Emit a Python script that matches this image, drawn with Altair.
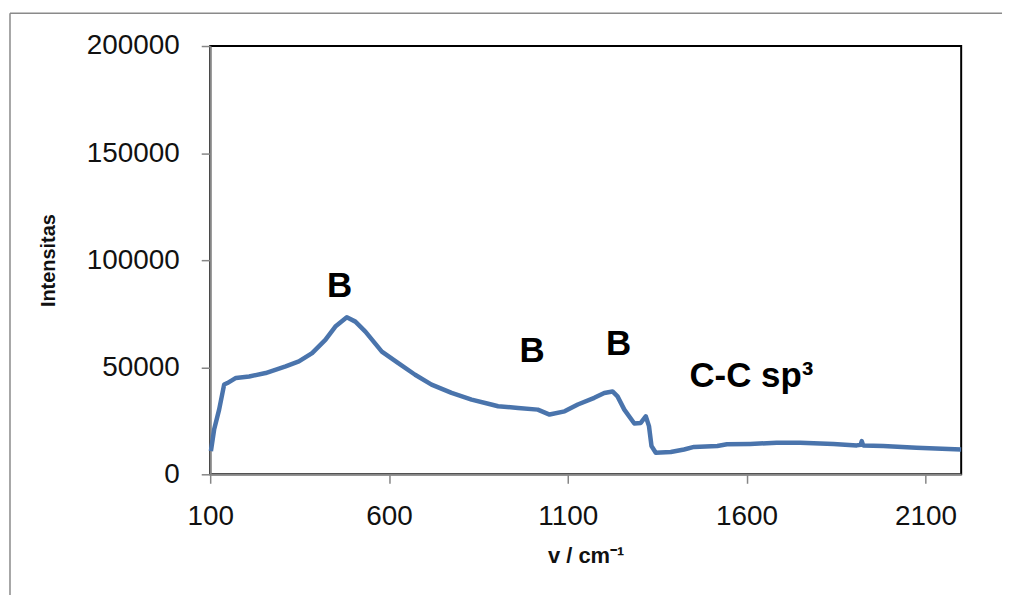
import altair as alt
import pandas as pd

# Raman shift (cm^-1) and intensity
wavenumber = [102, 111, 125, 139, 148, 172, 209, 255, 311, 348, 385, 422, 450, 482,
              506, 534, 580, 626, 673, 719, 775, 831, 886, 905, 961, 1016, 1049, 1091,
              1128, 1174, 1202, 1225, 1239, 1258, 1286, 1304, 1318, 1327, 1334, 1346,
              1388, 1425, 1453, 1518, 1545, 1610, 1684, 1750, 1843, 1908, 1919, 1922,
              1926, 1982, 2075, 2200]
intensity = [10800, 20900, 30200, 41900, 42600, 45000, 45700, 47300, 50400, 52700,
             56600, 62800, 69000, 73300, 71300, 66600, 57300, 51900, 46500, 41900,
             38000, 34900, 32600, 31800, 31000, 30200, 27900, 29400, 32600, 35700,
             38000, 38700, 36400, 30200, 23700, 24000, 27100, 22500, 13200, 10100,
             10400, 11600, 12800, 13200, 14000, 14200, 14700, 14700, 14200, 13500,
             13800, 15500, 13500, 13200, 12400, 11600]

# Peak annotations
ann_text = ["B", "B", "B"]
ann_x = [462, 1000, 1242]
ann_y = [82800, 52600, 55800]
cc_text = ["C-C sp³"]
cc_x = [1440]
cc_y = [40900]

x_ticks = [100, 600, 1100, 1600, 2100]
y_ticks = [0, 50000, 100000, 150000, 200000]

df = pd.DataFrame({"v": wavenumber, "I": intensity})
ann = pd.DataFrame({"t": ann_text, "v": ann_x, "I": ann_y})
cc = pd.DataFrame({"t": cc_text, "v": cc_x, "I": cc_y})

FONT = "Liberation Sans"
GRAY = "#868686"

xscale = alt.Scale(domain=[100, 2200], nice=False, zero=False)
yscale = alt.Scale(domain=[0, 200000], nice=False)

line = alt.Chart(df).mark_line(color="#4A74AC", strokeWidth=4.5, strokeJoin="round").encode(
    x=alt.X("v:Q", scale=xscale,
            axis=alt.Axis(values=x_ticks, format="d", title="v / cm⁻¹", grid=False,
                          labelFlush=False,
                          labelFont=FONT, labelFontSize=28, labelColor="#111111",
                          labelPadding=19, tickSize=9, tickColor=GRAY, tickWidth=1.5,
                          domainColor=GRAY, domainWidth=2,
                          titleFont=FONT, titleFontSize=22, titleFontWeight="bold",
                          titleColor="#111111", titlePadding=16)),
    y=alt.Y("I:Q", scale=yscale,
            axis=alt.Axis(values=y_ticks, format="d", title="Intensitas", grid=False,
                          labelFont=FONT, labelFontSize=28, labelColor="#111111",
                          labelPadding=22, tickSize=9, tickColor=GRAY, tickWidth=1.5,
                          domainColor=GRAY, domainWidth=2,
                          titleFont=FONT, titleFontSize=20, titleFontWeight="bold",
                          titleColor="#111111", titlePadding=28)),
)

labels = alt.Chart(ann).mark_text(font=FONT, fontSize=35, fontWeight="bold",
                                  align="center", baseline="alphabetic", color="#000000").encode(
    x=alt.X("v:Q", scale=xscale), y=alt.Y("I:Q", scale=yscale), text="t:N")

cc_label = alt.Chart(cc).mark_text(font=FONT, fontSize=35, fontWeight="bold",
                                   align="left", baseline="alphabetic", color="#000000").encode(
    x=alt.X("v:Q", scale=xscale), y=alt.Y("I:Q", scale=yscale), text="t:N")

one = pd.DataFrame({"k": [0]})
frame_top = alt.Chart(one).mark_rule(stroke="#8a8a8a", strokeWidth=1.5).encode(
    x=alt.value(-201), x2=alt.value(795), y=alt.value(-33))
frame_left = alt.Chart(one).mark_rule(stroke="#8a8a8a", strokeWidth=1.5).encode(
    x=alt.value(-201), y=alt.value(-33), y2=alt.value(700))

chart = alt.layer(frame_top, frame_left, line, labels, cc_label).properties(
    width=754, height=430,
    autosize=alt.AutoSizeParams(type="none"),
    padding={"left": 203, "top": 37, "right": 45, "bottom": 120},
    background="white",
).configure_view(stroke="#000000", strokeWidth=2)

chart.save("out.html", embed_options={"renderer": "svg", "actions": False})
